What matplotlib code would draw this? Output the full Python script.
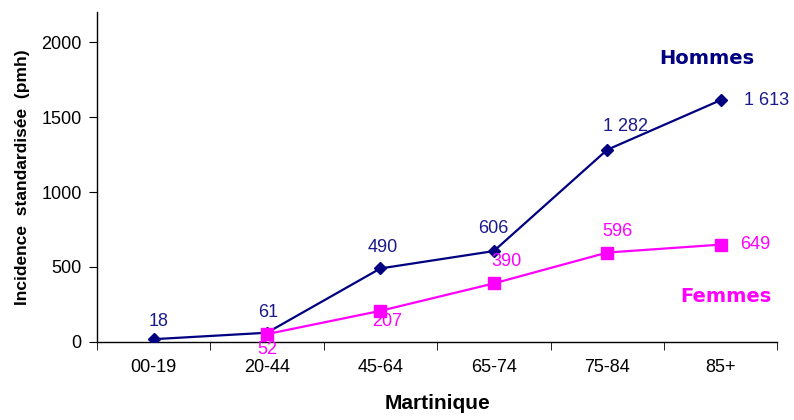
import matplotlib
matplotlib.use("Agg")
import matplotlib.pyplot as plt

categories = ["00-19", "20-44", "45-64", "65-74", "75-84", "85+"]
hommes = [18, 61, 490, 606, 1282, 1613]
hommes_labels = ["18", "61", "490", "606", "1 282", "1 613"]
femmes_cats = ["20-44", "45-64", "65-74", "75-84", "85+"]
femmes = [52, 207, 390, 596, 649]
femmes_labels = ["52", "207", "390", "596", "649"]
yticks = [0, 500, 1000, 1500, 2000]

plt.rcParams['font.family'] = ['Liberation Sans', 'DejaVu Sans']

fig = plt.figure(figsize=(7.94, 4.2), dpi=100)
ax = fig.add_axes([0.122, 0.186, 0.857, 0.785])

xh = list(range(len(categories)))
xf = [categories.index(c) for c in femmes_cats]

navy = "#000080"
mag = "#FF00FF"
lab_navy = "#1a1a8c"

ax.plot(xh, hommes, color=navy, lw=1.6, marker="D", ms=6.5, zorder=3)
ax.plot(xf, femmes, color=mag, lw=1.6, marker="s", ms=9, zorder=4)

# Hommes labels (pixel offsets)
h_off = [(5, 18), (1, 20), (2, 21), (0, 23), (18, 23), (46, 0)]
for x, v, t, o in zip(xh, hommes, hommes_labels, h_off):
    ax.annotate(t, (x, v), xytext=o, textcoords="offset pixels",
                ha="center", va="center", color=lab_navy, fontsize=13)
# Femmes labels
f_off = [(0, -15), (7, -11), (13, 22), (10, 21), (35, 0)]
for x, v, t, o in zip(xf, femmes, femmes_labels, f_off):
    ax.annotate(t, (x, v), xytext=o, textcoords="offset pixels",
                ha="center", va="center", color=mag, fontsize=13)

ax.text(0.897, 0.858, "Hommes", transform=ax.transAxes, ha="center", va="center",
        color=navy, fontsize=14, fontweight="bold", family=["DejaVu Sans"])
ax.text(0.924, 0.139, "Femmes", transform=ax.transAxes, ha="center", va="center",
        color=mag, fontsize=14, fontweight="bold", family=["DejaVu Sans"])

ax.set_xlim(-0.5, len(categories) - 0.5)
ax.set_ylim(0, 2200)
ax.set_yticks(yticks)
ax.set_yticklabels([str(v) for v in yticks], fontsize=13)
ax.set_xticks(xh)
ax.set_xticklabels(categories, fontsize=13)
ax.tick_params(axis="x", length=0, pad=12)
ax.set_xticks([i - 0.5 for i in range(len(categories) + 1)], minor=True)
ax.tick_params(axis="x", which="minor", length=6, direction="out")
ax.tick_params(axis="y", length=6, direction="out", pad=5)

for s in ["top", "right"]:
    ax.spines[s].set_visible(False)
for s in ["left", "bottom"]:
    ax.spines[s].set_linewidth(1.0)

ax.set_ylabel("Incidence  standardisée  (pmh)", fontsize=12.5, fontweight="bold", labelpad=8)
ax.set_xlabel("Martinique", fontsize=15, fontweight="bold", labelpad=13)

fig.savefig("out.png", dpi=100)
